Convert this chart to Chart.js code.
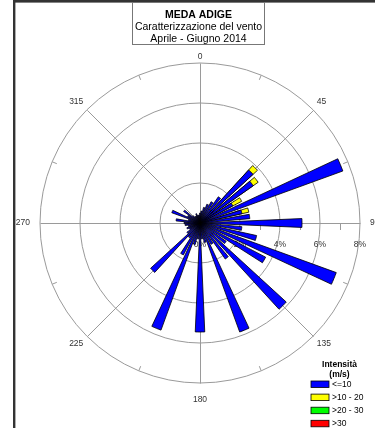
<!DOCTYPE html>
<html>
<head>
<meta charset="utf-8">
<title>Meda Adige – rosa dei venti</title>
<script src="https://cdn.jsdelivr.net/npm/chart.js@4.4.1/dist/chart.umd.min.js"></script>
<style>
  html, body { margin: 0; padding: 0; background: #ffffff; }
  #wrap { position: relative; width: 375px; height: 428px; overflow: hidden; }
  canvas { display: block; }
</style>
</head>
<body>
<div id="wrap"><canvas id="rose" width="375" height="428"></canvas></div>
<script>
// Wind direction sectors, degrees clockwise from north (48 sectors of 7.5°)
const directions = [
  0, 7.5, 15, 22.5, 30, 37.5, 45, 52.5, 60, 67.5, 75, 82.5,
  90, 97.5, 105, 112.5, 120, 127.5, 135, 142.5, 150, 157.5, 165, 172.5,
  180, 187.5, 195, 202.5, 210, 217.5, 225, 232.5, 240, 247.5, 255, 262.5,
  270, 277.5, 285, 292.5, 300, 307.5, 315, 322.5, 330, 337.5, 345, 352.5
];

// Frequency (%) per sector for each speed class (m/s)
const speedUpTo10 = [
  0.5, 0.6, 0.8, 1.0, 1.2, 1.6, 3.6, 3.25, 1.85, 7.6, 2.15, 2.5,
  5.1, 2.1, 2.9, 7.25, 3.7, 1.6, 5.85, 2.2, 1.2, 5.8, 1.0, 0.8,
  5.45, 0.8, 1.1, 5.7, 1.8, 0.9, 3.35, 0.8, 0.6, 0.7, 0.6, 0.75,
  0.8, 1.2, 0.6, 1.5, 0.7, 1.0, 0.5, 0.4, 0.4, 0.5, 0.4, 0.4
];
const speed10to20 = [
  0, 0, 0, 0, 0, 0, 0.3, 0.3, 0.5, 0, 0.35, 0,
  0, 0, 0, 0, 0, 0, 0, 0, 0, 0, 0, 0,
  0, 0, 0, 0, 0, 0, 0, 0, 0, 0, 0, 0,
  0, 0, 0, 0, 0, 0, 0, 0, 0, 0, 0, 0
];
const speed20to30 = [
  0, 0, 0, 0, 0, 0, 0, 0, 0, 0, 0, 0,
  0, 0, 0, 0, 0, 0, 0, 0, 0, 0, 0, 0,
  0, 0, 0, 0, 0, 0, 0, 0, 0, 0, 0, 0,
  0, 0, 0, 0, 0, 0, 0, 0, 0, 0, 0, 0
];
const speedOver30 = [
  0, 0, 0, 0, 0, 0, 0, 0, 0, 0, 0, 0,
  0, 0, 0, 0, 0, 0, 0, 0, 0, 0, 0, 0,
  0, 0, 0, 0, 0, 0, 0, 0, 0, 0, 0, 0,
  0, 0, 0, 0, 0, 0, 0, 0, 0, 0, 0, 0
];

const classLabels = ['<=10', '>10 - 20', '>20 - 30', '>30'];
const classColors = ['#0000ff', '#ffff00', '#00ff00', '#ff0000'];
const compassLabels = ['0', '45', '90', '135', '180', '225', '270', '315'];
const compassAngles = [0, 45, 90, 135, 180, 225, 270, 315];
const ringTicks = [0, 2, 4, 6, 8];
const titleLines = ['MEDA ADIGE', 'Caratterizzazione del vento', 'Aprile - Giugno 2014'];
const legendTitle = ['Intensità', '(m/s)'];

// Geometry of each sector: a 5° wedge followed by a 2.5° gap
const SECTOR = 360 / directions.length;
const BAR_SPAN = 5;
const GAP_SPAN = SECTOR - BAR_SPAN;

const FONT = '"Liberation Sans", Arial, Helvetica, sans-serif';
const classes = [speedUpTo10, speed10to20, speed20to30, speedOver30];

// Each class is drawn as the cumulative total so outer classes peek out beyond inner ones
function cumulative(c) {
  return directions.map((d, i) => {
    if (!(classes[c][i] > 0)) return 0;
    let sum = 0;
    for (let k = 0; k <= c; k++) sum += classes[k][i];
    return sum;
  });
}
function withGaps(values) {
  const out = [];
  values.forEach(v => { out.push(v); out.push(0); });
  return out;
}
const sectorLabels = [];
directions.forEach(d => { sectorLabels.push(String(d)); sectorLabels.push(''); });

const datasets = classes.map((cls, c) => ({
  label: classLabels[c],
  data: withGaps(cumulative(c)),
  backgroundColor: classColors[c],
  borderColor: '#000000',
  borderWidth: ctx => (ctx.raw > 0 ? 0.8 : 0),
  angle: ctx => (ctx.dataIndex % 2 === 0 ? BAR_SPAN : GAP_SPAN)
}));

const rad = a => a * Math.PI / 180;

const decor = {
  id: 'roseDecor',
  beforeDraw(chart) {
    const ctx = chart.ctx;
    ctx.save();
    ctx.fillStyle = '#ffffff';
    ctx.fillRect(0, 0, chart.width, chart.height);
    // figure frame
    ctx.fillStyle = '#333333';
    ctx.fillRect(13, 0, chart.width - 13, 2.6);
    ctx.fillRect(13, 0, 2.4, chart.height);
    ctx.restore();
  },
  beforeDatasetsDraw(chart) {
    const ctx = chart.ctx;
    const s = chart.scales.r;
    const cx = s.xCenter, cy = s.yCenter;
    const R = s.getDistanceFromCenterForValue(s.max);
    ctx.save();
    ctx.strokeStyle = '#9a9a9a';
    ctx.lineWidth = 1;
    ctx.beginPath();
    compassAngles.forEach(a => {
      const t = rad(a);
      ctx.moveTo(cx + 0.5, cy + 0.5);
      ctx.lineTo(cx + 0.5 + R * Math.sin(t), cy + 0.5 - R * Math.cos(t));
    });
    // small marks on the outer ring halfway between spokes
    compassAngles.forEach(a => {
      const t = rad(a + 22.5);
      ctx.moveTo(cx + R * Math.sin(t), cy - R * Math.cos(t));
      ctx.lineTo(cx + (R - 5) * Math.sin(t), cy - (R - 5) * Math.cos(t));
    });
    // minor ticks on the graduated axis
    [1, 3, 5, 7].forEach(v => {
      const x = Math.round(cx + s.getDistanceFromCenterForValue(v)) + 0.5;
      ctx.moveTo(x, cy + 1);
      ctx.lineTo(x, cy + 7);
    });
    ctx.stroke();

    ctx.fillStyle = '#333333';
    ctx.font = '8.5px ' + FONT;
    ctx.textAlign = 'center';
    ctx.textBaseline = 'middle';
    ringTicks.forEach(v => {
      ctx.fillText(v + '%', cx + s.getDistanceFromCenterForValue(v), cy + 22);
    });
    ctx.restore();
  },
  afterDraw(chart) {
    const ctx = chart.ctx;
    const s = chart.scales.r;
    const cx = s.xCenter, cy = s.yCenter;
    const R = s.getDistanceFromCenterForValue(s.max);
    ctx.save();

    // compass labels
    ctx.fillStyle = '#333333';
    ctx.font = '8.5px ' + FONT;
    compassAngles.forEach((a, i) => {
      const t = rad(a);
      const sn = Math.sin(t), cs = Math.cos(t);
      let gap = 5;
      if (cs > 0.9) gap = 2;
      if (Math.abs(cs) < 0.1) gap = 10;
      if (cs < -0.9) gap = 12;
      const x = cx + (R + gap) * sn;
      const y = cy - (R + gap) * cs;
      ctx.textAlign = Math.abs(sn) < 0.1 ? 'center' : (sn > 0 ? 'left' : 'right');
      ctx.textBaseline = Math.abs(cs) < 0.1 ? 'middle' : (cs > 0 ? 'bottom' : 'top');
      ctx.fillText(compassLabels[i], x, y);
    });

    // title box
    ctx.fillStyle = '#ffffff';
    ctx.fillRect(132, 2.6, 133, 42);
    ctx.strokeStyle = '#777777';
    ctx.lineWidth = 1;
    ctx.strokeRect(132.5, 2.5, 132, 42);
    ctx.fillStyle = '#000000';
    ctx.textAlign = 'center';
    ctx.textBaseline = 'alphabetic';
    ctx.font = 'bold 10.5px ' + FONT;
    ctx.fillText(titleLines[0], 198.5, 17.5);
    ctx.font = '10.5px ' + FONT;
    ctx.fillText(titleLines[1], 198.5, 30);
    ctx.fillText(titleLines[2], 198.5, 41.5);

    // legend
    ctx.font = 'bold 8.5px ' + FONT;
    ctx.textBaseline = 'middle';
    ctx.fillText(legendTitle[0], 339.5, 365);
    ctx.fillText(legendTitle[1], 339.5, 375);
    ctx.font = '8.5px ' + FONT;
    ctx.textAlign = 'left';
    classLabels.forEach((lab, i) => {
      const y = 381 + i * 13.1;
      ctx.fillStyle = classColors[i];
      ctx.fillRect(311, y, 18, 6.5);
      ctx.strokeStyle = '#000000';
      ctx.lineWidth = 0.8;
      ctx.strokeRect(311, y, 18, 6.5);
      ctx.fillStyle = '#000000';
      ctx.fillText(lab, 332, y + 3.5);
    });
    ctx.restore();
  }
};

new Chart(document.getElementById('rose'), {
  type: 'polarArea',
  data: { labels: sectorLabels, datasets },
  options: {
    responsive: false,
    devicePixelRatio: 1,
    animation: false,
    layout: { padding: { left: 40, right: 15, top: 63, bottom: 45 } },
    plugins: {
      legend: { display: false },
      tooltip: { enabled: false },
      title: { display: false }
    },
    scales: {
      r: {
        min: 0,
        max: 8,
        startAngle: -BAR_SPAN / 2,
        ticks: { display: false, stepSize: 2 },
        grid: { color: '#9a9a9a', lineWidth: 1, circular: true },
        angleLines: { display: false },
        pointLabels: { display: false }
      }
    }
  },
  plugins: [decor]
});
</script>
</body>
</html>
